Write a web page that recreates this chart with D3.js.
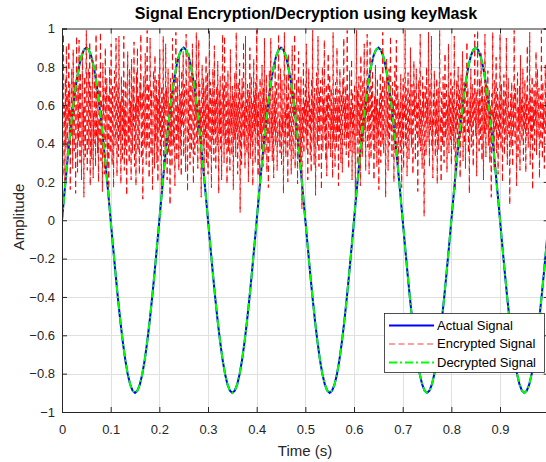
<!DOCTYPE html>
<html>
<head>
<meta charset="utf-8">
<script src="https://cdn.jsdelivr.net/npm/d3@7"></script>
<style>
  body { margin: 0; background: #fff; }
  svg { display: block; font-family: "Liberation Sans", Arial, sans-serif; }
</style>
</head>
<body>
<div id="chart"></div>
<script>
// time step of the drawn samples
const SINE_STEP = 0.005;
const NOISE_STEP = 0.001;

// actual signal (5 periods, amplitude 0.9)
const actualSignal = [
  0, 0.141, 0.278, 0.409, 0.529, 0.636, 0.728, 0.802, 0.856, 0.889,
  0.9, 0.889, 0.856, 0.802, 0.728, 0.636, 0.529, 0.409, 0.278, 0.141,
  0, -0.141, -0.278, -0.409, -0.529, -0.636, -0.728, -0.802, -0.856, -0.889,
  -0.9, -0.889, -0.856, -0.802, -0.728, -0.636, -0.529, -0.409, -0.278, -0.141,
  0, 0.141, 0.278, 0.409, 0.529, 0.636, 0.728, 0.802, 0.856, 0.889,
  0.9, 0.889, 0.856, 0.802, 0.728, 0.636, 0.529, 0.409, 0.278, 0.141,
  0, -0.141, -0.278, -0.409, -0.529, -0.636, -0.728, -0.802, -0.856, -0.889,
  -0.9, -0.889, -0.856, -0.802, -0.728, -0.636, -0.529, -0.409, -0.278, -0.141,
  0, 0.141, 0.278, 0.409, 0.529, 0.636, 0.728, 0.802, 0.856, 0.889,
  0.9, 0.889, 0.856, 0.802, 0.728, 0.636, 0.529, 0.409, 0.278, 0.141,
  0, -0.141, -0.278, -0.409, -0.529, -0.636, -0.728, -0.802, -0.856, -0.889,
  -0.9, -0.889, -0.856, -0.802, -0.728, -0.636, -0.529, -0.409, -0.278, -0.141,
  0, 0.141, 0.278, 0.409, 0.529, 0.636, 0.728, 0.802, 0.856, 0.889,
  0.9, 0.889, 0.856, 0.802, 0.728, 0.636, 0.529, 0.409, 0.278, 0.141,
  0, -0.141, -0.278, -0.409, -0.529, -0.636, -0.728, -0.802, -0.856, -0.889,
  -0.9, -0.889, -0.856, -0.802, -0.728, -0.636, -0.529, -0.409, -0.278, -0.141,
  0, 0.141, 0.278, 0.409, 0.529, 0.636, 0.728, 0.802, 0.856, 0.889,
  0.9, 0.889, 0.856, 0.802, 0.728, 0.636, 0.529, 0.409, 0.278, 0.141,
  0, -0.141, -0.278, -0.409, -0.529, -0.636, -0.728, -0.802, -0.856, -0.889,
  -0.9, -0.889, -0.856, -0.802, -0.728, -0.636, -0.529, -0.409, -0.278, -0.141,
  0
];

// decrypted signal lies exactly on the actual one
const decryptedSignal = actualSignal.slice();

// encrypted signal, estimated from the red cloud (values between 0 and 1)
const encryptedSignal = [
  .42,.67,.23,.97,.55,.60,.19,.74,.38,.91,.47,.29,.66,.52,.93,.34,.71,.16,.58,.44,.79,.63,.27,.89,.50,
  .36,.72,.61,.14,.48,.96,.57,.25,.69,.41,.94,.53,.30,.77,.64,.21,.46,.88,.39,.59,.12,.75,.51,.33,.68,
  .99,.45,.26,.62,.79,.37,.54,.93,.18,.70,.49,.32,.65,.84,.22,.56,.40,.73,.61,.28,.97,.43,.67,.35,.52,
  .20,.76,.58,.41,.98,.31,.63,.47,.15,.82,.55,.69,.24,.44,.90,.38,.60,.74,.27,.51,.66,.09,.48,.80,.35,
  .57,.92,.43,.29,.70,.53,.17,.64,.78,.39,.46,.95,.60,.23,.54,.71,.33,.96,.50,.42,.62,.19,.75,.56,.31,
  .68,.45,.96,.26,.59,.37,.73,.52,.13,.66,.88,.40,.55,.30,.79,.47,.62,.21,.84,.58,.35,.70,.49,.93,.28,
  .44,.61,.18,.77,.53,.90,.36,.65,.42,.24,.72,.57,.97,.32,.50,.67,.11,.46,.75,.60,.38,.87,.54,.29,.63,
  .99,.39,.56,.71,.22,.48,.95,.59,.34,.68,.45,.16,.62,.78,.51,.27,.86,.41,.57,.73,.30,.64,.20,.52,.76,
  .47,.89,.33,.60,.14,.70,.55,.43,.96,.25,.66,.50,.37,.92,.58,.69,.21,.45,.79,.35,.61,.53,.08,.74,.40,
  .63,.28,.95,.54,.39,.72,.47,.18,.67,.98,.56,.31,.74,.44,.60,.26,.85,.51,.37,.66,.23,.78,.49,.62,.88,
  .33,.57,.71,.43,.25,.97,.62,.50,.15,.69,.41,.87,.55,.29,.64,.76,.36,.53,.92,.45,.19,.67,.58,.34,.73,
  .52,.98,.40,.61,.27,.56,.94,.47,.71,.32,.59,.12,.65,.81,.48,.38,.74,.22,.57,.69,.43,.86,.30,.54,.77,
  .24,.60,.49,.99,.35,.72,.53,.17,.66,.42,.79,.58,.31,.91,.46,.63,.27,.55,.70,.39,.83,.51,.14,.68,.45,
  .75,.37,.62,.21,.57,.97,.44,.69,.30,.96,.53,.40,.73,.59,.19,.48,.78,.36,.64,.55,.26,.89,.47,.61,.34,
  .70,.51,.16,.65,.42,.77,.58,.33,.98,.46,.60,.24,.72,.53,.39,.82,.04,.50,.67,.29,.74,.57,.43,.93,.38,
  .59,.27,.96,.48,.63,.35,.71,.55,.20,.68,.44,.90,.32,.57,.75,.41,.62,.18,.53,.84,.46,.66,.30,.72,.49,
  .99,.40,.58,.23,.67,.52,.11,.74,.45,.61,.37,.81,.54,.28,.69,.47,.95,.34,.60,.42,.76,.25,.56,.64,.17,
  .50,.78,.36,.62,.95,.43,.57,.31,.70,.54,.22,.65,.47,.83,.39,.59,.72,.26,.48,.66,.97,.41,.53,.35,.79,
  .61,.29,.73,.46,.55,.14,.68,.98,.40,.58,.33,.76,.51,.64,.20,.87,.44,.57,.37,.70,.49,.24,.63,.91,.45,
  .32,.67,.54,.97,.27,.60,.42,.73,.56,.19,.64,.88,.38,.52,.69,.30,.75,.47,.06,.59,.43,.82,.35,.61,.53,
  .71,.44,.92,.37,.63,.21,.55,.79,.48,.66,.34,.58,.25,.74,.51,.99,.40,.62,.29,.69,.56,.13,.47,.77,.60,
  .39,.96,.52,.28,.67,.45,.73,.59,.16,.56,.80,.36,.63,.49,.94,.42,.57,.31,.71,.23,.65,.54,.87,.37,.50,
  .76,.60,.33,.69,.47,.58,.22,.98,.41,.64,.53,.28,.72,.56,.38,.90,.46,.61,.18,.68,.43,.79,.52,.30,.66,
  .48,.25,.74,.55,.95,.39,.62,.46,.70,.34,.57,.99,.43,.65,.27,.53,.78,.36,.59,.50,.84,.21,.67,.45,.58,
  .35,.71,.63,.10,.52,.99,.44,.68,.29,.56,.75,.40,.61,.18,.86,.49,.64,.33,.73,.55,.41,.92,.47,.60,.26,
  .69,.54,.97,.38,.47,.66,.24,.59,.93,.45,.32,.70,.53,.78,.42,.58,.21,.65,.36,.81,.50,.63,.28,.74,.43,
  .57,.16,.64,.51,.77,.30,.68,.55,.40,.98,.62,.35,.48,.73,.56,.12,.60,.84,.44,.67,.26,.53,.79,.39,.61,
  .96,.46,.58,.33,.72,.49,.62,.20,.56,.81,.43,.67,.94,.37,.54,.70,.29,.63,.47,.57,.35,.76,.52,.17,.65,
  .42,.74,.27,.60,.53,.99,.39,.69,.46,.23,.58,.77,.51,.32,.66,.44,.90,.55,.38,.71,.61,.24,.48,.83,.54,
  .68,.31,.57,.79,.45,.62,.15,.52,.73,.40,.64,.97,.36,.59,.48,.27,.75,.53,.67,.02,.43,.70,.58,.34,.80,
  .50,.63,.41,.98,.55,.28,.71,.47,.60,.96,.38,.54,.22,.66,.49,.78,.57,.33,.62,.45,.74,.19,.56,.69,.37,
  .61,.99,.46,.53,.20,.67,.58,.39,.75,.51,.30,.64,.87,.43,.56,.71,.25,.60,.48,.92,.35,.65,.54,.42,.77,
  .29,.55,.70,.44,.63,.37,.96,.52,.16,.59,.47,.73,.34,.61,.80,.53,.41,.68,.22,.57,.76,.45,.62,.88,.31,
  .56,.72,.40,.65,.27,.51,.60,.93,.46,.69,.35,.57,.14,.64,.49,.79,.38,.55,.71,.43,.28,.66,.52,.97,.59,
  .44,.67,.23,.58,.99,.48,.62,.36,.74,.54,.42,.87,.59,.31,.70,.50,.21,.63,.45,.97,.56,.33,.72,.47,.61,
  .78,.39,.55,.68,.30,.60,.45,.12,.66,.53,.98,.41,.57,.26,.73,.62,.47,.85,.35,.58,.69,.24,.51,.64,.43,
  .97,.52,.37,.71,.59,.20,.63,.48,.76,.34,.56,.67,.42,.95,.53,.29,.61,.74,.45,.57,.08,.49,.66,.38,.72,
  .55,.28,.64,.46,.99,.57,.40,.69,.53,.18,.61,.77,.33,.59,.47,.70,.26,.86,.50,.63,.41,.55,.79,.31,.60,
  .47,.73,.58,.25,.66,.44,.91,.54,.38,.62,.50,.98,.29,.68,.56,.43,.75,.16,.59,.48,.71,.36,.64,.52,.88,
  .34,.61,.79,.43,.57,.69,.22,.51,.65,.40,.99,.56,.32,.72,.47,.60,.27,.54,.81,.45,.63,.38,.94,.58,.49
];

const xTicks = [0, 0.1, 0.2, 0.3, 0.4, 0.5, 0.6, 0.7, 0.8, 0.9, 1];
const yTicks = [-1, -0.8, -0.6, -0.4, -0.2, 0, 0.2, 0.4, 0.6, 0.8, 1];
const legendNames = ["Actual Signal", "Encrypted Signal", "Decrypted Signal"];

const WIDTH = 546;
const HEIGHT = 462;
const LEFT = 62, RIGHT = 548.7, TOP = 28.5, BOTTOM = 412;
const AXIS_COLOR = "#262626";

let svg = d3.select("#chart")
    .append("svg")
    .attr("width", WIDTH)
    .attr("height", HEIGHT);

let xScale = d3.scaleLinear().domain([0, 1]).range([LEFT, RIGHT]);
let yScale = d3.scaleLinear().domain([-1, 1]).range([BOTTOM, TOP]);

svg.append("defs").append("clipPath")
    .attr("id", "plot-clip")
    .append("rect")
    .attr("x", LEFT).attr("y", TOP)
    .attr("width", RIGHT - LEFT).attr("height", BOTTOM - TOP);

// grid
let grid = svg.append("g").attr("stroke", "#e0e0e0").attr("stroke-width", 1);
grid.selectAll(".gx").data(xTicks.slice(1, -1)).enter().append("line")
    .attr("x1", d => Math.round(xScale(d)) + 0.5).attr("x2", d => Math.round(xScale(d)) + 0.5)
    .attr("y1", TOP).attr("y2", BOTTOM);
grid.selectAll(".gy").data(yTicks.slice(1, -1)).enter().append("line")
    .attr("y1", d => Math.round(yScale(d)) + 0.5).attr("y2", d => Math.round(yScale(d)) + 0.5)
    .attr("x1", LEFT).attr("x2", RIGHT);

// series
let plot = svg.append("g").attr("clip-path", "url(#plot-clip)");

let sineLine = d3.line()
    .x((d, i) => xScale(i * SINE_STEP))
    .y(d => yScale(d));
let noiseLine = d3.line()
    .x((d, i) => xScale(i * NOISE_STEP))
    .y(d => yScale(d));

plot.append("path")
    .datum(actualSignal)
    .attr("d", sineLine)
    .attr("fill", "none")
    .attr("stroke", "#0000ff")
    .attr("stroke-width", 2);

plot.append("path")
    .datum(encryptedSignal)
    .attr("d", noiseLine)
    .attr("fill", "none")
    .attr("stroke", "#ff0000")
    .attr("stroke-width", 0.95)
    .attr("stroke-dasharray", "6,3.5");

plot.append("path")
    .datum(decryptedSignal)
    .attr("d", sineLine)
    .attr("fill", "none")
    .attr("stroke", "#00ff00")
    .attr("stroke-width", 2)
    .attr("stroke-dasharray", "8,3,2,3");

// axes (box with inward ticks on all sides)
let xAxis = svg.append("g")
    .attr("transform", "translate(0," + BOTTOM + ")")
    .call(d3.axisBottom(xScale).tickValues(xTicks).tickSize(-5).tickPadding(13)
        .tickFormat(d => d === 1 ? "" : d3.format("")(d)));
let xAxisTop = svg.append("g")
    .attr("transform", "translate(0," + TOP + ")")
    .call(d3.axisTop(xScale).tickValues(xTicks).tickSize(-5).tickFormat(""));
let yAxis = svg.append("g")
    .attr("transform", "translate(" + LEFT + ",0)")
    .call(d3.axisLeft(yScale).tickValues(yTicks).tickSize(-5).tickPadding(7).tickFormat(d3.format("")));
let yAxisRight = svg.append("g")
    .attr("transform", "translate(" + RIGHT + ",0)")
    .call(d3.axisRight(yScale).tickValues(yTicks).tickSize(-5).tickFormat(""));

[xAxis, xAxisTop, yAxis, yAxisRight].forEach(a => {
    a.select(".domain").attr("stroke", AXIS_COLOR);
    a.selectAll(".tick line").attr("stroke", AXIS_COLOR);
    a.selectAll("text")
        .attr("fill", AXIS_COLOR)
        .style("font-size", "13px")
        .style("font-family", "'Liberation Sans', Arial, sans-serif");
});

// title and labels
svg.append("text")
    .attr("x", 306)
    .attr("y", 19)
    .attr("text-anchor", "middle")
    .style("font-size", "16px")
    .style("font-weight", "bold")
    .attr("fill", "#000")
    .text("Signal Encryption/Decryption using keyMask");

svg.append("text")
    .attr("x", 305)
    .attr("y", 456)
    .attr("text-anchor", "middle")
    .style("font-size", "15px")
    .attr("fill", AXIS_COLOR)
    .text("Time (s)");

svg.append("text")
    .attr("transform", "translate(24,217)rotate(-90)")
    .attr("text-anchor", "middle")
    .style("font-size", "15px")
    .attr("fill", AXIS_COLOR)
    .text("Amplitude");

// legend
let legend = svg.append("g").attr("transform", "translate(384,313)");
legend.append("rect")
    .attr("x", 0.5).attr("y", 0.5)
    .attr("width", 160).attr("height", 59)
    .attr("fill", "#fff")
    .attr("stroke", AXIS_COLOR)
    .attr("stroke-width", 0.8);

let legendStyles = [
    { color: "#0000ff", dash: null, width: 2 },
    { color: "#ff4040", dash: "6,3.5", width: 1 },
    { color: "#00ff00", dash: "8,3,2,3", width: 2 }
];

let items = legend.selectAll(".legend-item")
    .data(legendNames)
    .enter().append("g")
    .attr("transform", (d, i) => "translate(0," + Math.round(11.5 + i * 18.5) + ")");

items.append("line")
    .attr("x1", 5).attr("x2", 50)
    .attr("y1", (d, i) => i === 1 ? 1 : 0.5)
    .attr("y2", (d, i) => i === 1 ? 1 : 0.5)
    .attr("stroke", (d, i) => legendStyles[i].color)
    .attr("stroke-width", (d, i) => legendStyles[i].width)
    .attr("stroke-dasharray", (d, i) => legendStyles[i].dash);

items.append("text")
    .attr("x", 53)
    .attr("y", 5)
    .style("font-size", "13px")
    .attr("fill", "#000")
    .text(d => d);
</script>
</body>
</html>
